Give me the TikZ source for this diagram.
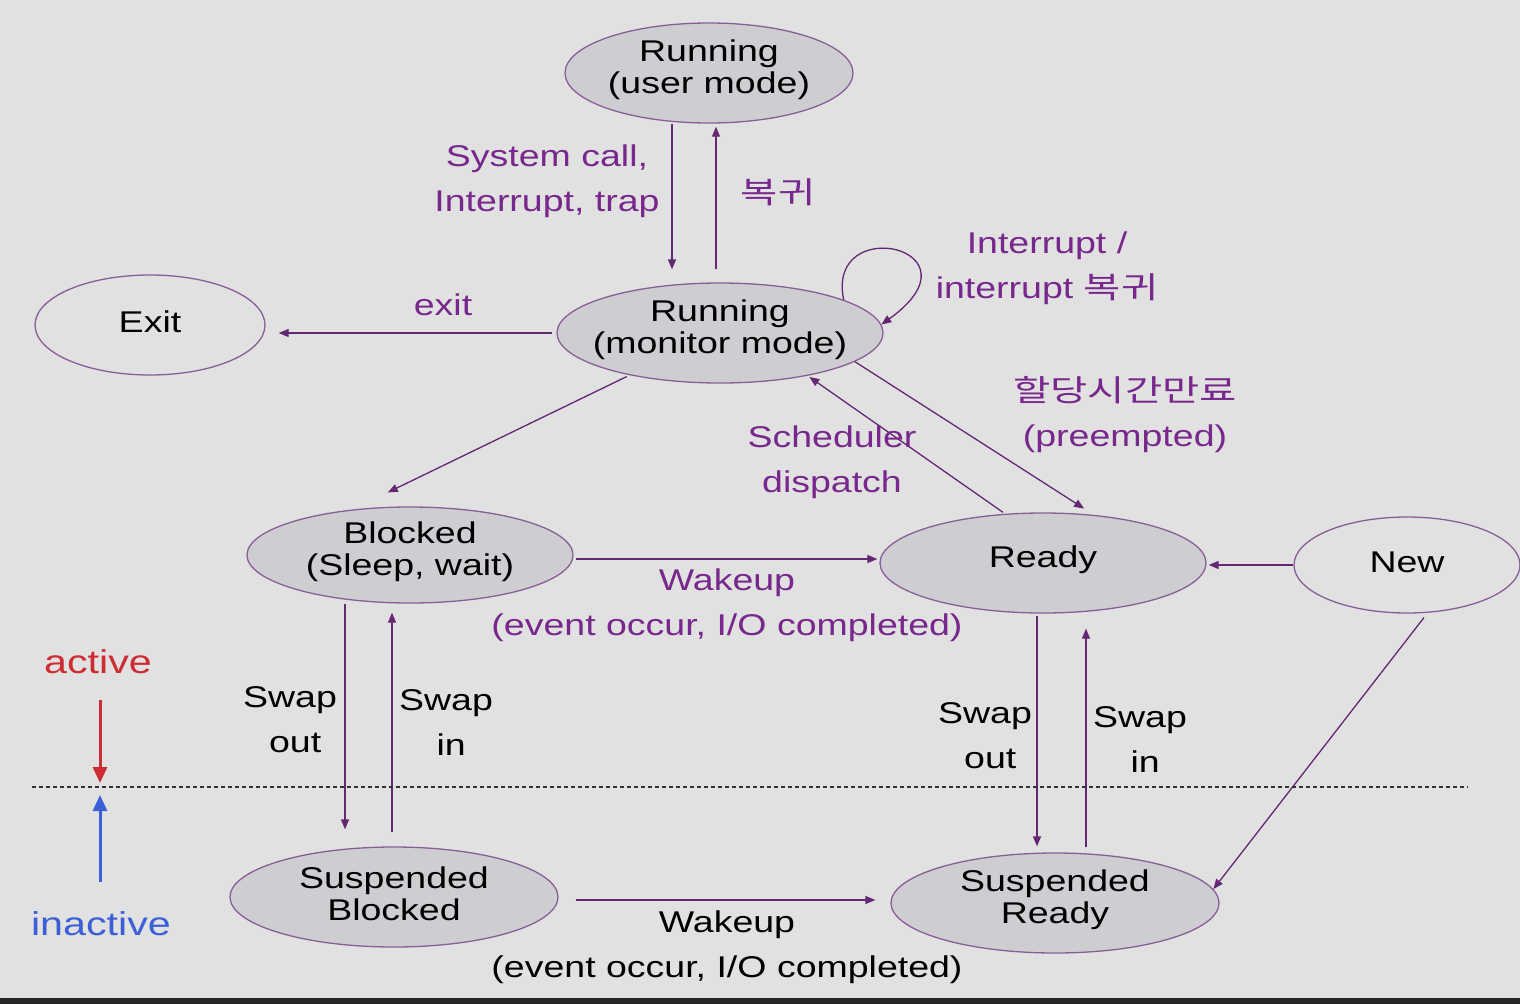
\documentclass[tikz,border=0pt]{standalone}
\usepackage{fontspec}
\setmainfont{Liberation Sans}[FakeStretch=1.25]
\newfontfamily\krfont{Noto Sans CJK KR}[FakeStretch=1.35]
\usetikzlibrary{shapes.geometric,arrows.meta}
\definecolor{bgc}{RGB}{225,225,225}
\definecolor{efill}{RGB}{206,206,210}
\definecolor{eline}{RGB}{135,95,150}
\definecolor{arrc}{RGB}{100,40,115}
\definecolor{labc}{RGB}{120,40,140}
\definecolor{actred}{RGB}{205,45,50}
\definecolor{inblue}{RGB}{60,95,215}
\tikzset{
  st/.style={ellipse, draw=eline, line width=1.3pt, inner sep=0pt},
  gst/.style={st, fill=efill},
  nt/.style={align=center, font=\fontsize{30}{32}\selectfont, text=black, inner sep=0pt, yshift=3pt},
  lb/.style={align=center, font=\fontsize{30}{45}\selectfont, text=labc, inner sep=0pt},
  kr/.style={align=center, font=\krfont\fontsize{30}{45}\selectfont, text=labc, inner sep=0pt},
  bk/.style={lb, text=black},
  arr/.style={draw=arrc, line width=1.3pt, -{Triangle[length=10pt,width=8pt]}},
  bigarr/.style={line width=3pt, -{Triangle[length=16pt,width=14pt]}},
}
\begin{document}
\begin{tikzpicture}[x=1pt,y=-1pt]
\fill[bgc] (0,0) rectangle (1520,1004);
\useasboundingbox (0,0) rectangle (1520,1004);
\fill[black!85] (0,998) rectangle (1520,1004);

% states
\node[gst, minimum width=288pt, minimum height=100pt, label={[nt]center:Running\\(user mode)}] (um) at (709,73) {};
\node[gst, minimum width=326pt, minimum height=100pt, label={[nt]center:Running\\(monitor mode)}] (rm) at (720,333) {};
\node[st, minimum width=230pt, minimum height=100pt, label={[nt]center:Exit}] (ex) at (150,325) {};
\node[gst, minimum width=326pt, minimum height=96pt, label={[nt]center:Blocked\\(Sleep, wait)}] (bl) at (410,555) {};
\node[gst, minimum width=326pt, minimum height=100pt, label={[nt]center:Ready}] (rd) at (1043,563) {};
\node[st, minimum width=226pt, minimum height=96pt, label={[nt]center:New}] (nw) at (1407,565) {};
\node[gst, minimum width=328pt, minimum height=100pt, label={[nt]center:Suspended\\Blocked}] (sb) at (394,897) {};
\node[gst, minimum width=328pt, minimum height=100pt, label={[nt]center:Suspended\\Ready}] (sr) at (1055,903) {};

% connectors
\draw[arr, shorten >=13pt] ([xshift=-37pt]um.south) -- ([xshift=-48pt]rm.north);
\draw[arr, shorten <=13pt, shorten >=3pt] ([xshift=-4pt]rm.north) -- ([xshift=7pt]um.south);
\draw[arr] (rm.15) .. controls (825,212) and (988,248) .. (rm.3);
\draw[arr, shorten <=4pt, shorten >=13pt] (rm.west) -- (rm.west -| ex.east);
\draw[arr, shorten <=3pt, shorten >=32pt] (rm.205) -- ([xshift=-51pt]bl.north);
\draw[arr, shorten >=2pt] ([xshift=-40pt]rd.north) -- (rm.334);
\draw[arr, shorten >=7pt] (rm.348) -- ([xshift=47pt]rd.north);
\draw[arr, shorten <=2pt, shorten >=2pt] ([yshift=-4pt]bl.east) -- ([yshift=-4pt]bl.east -| rd.west);
\draw[arr, shorten >=2pt] (nw.west) -- (nw.west -| rd.east);
\draw[arr, shorten >=17pt] ([xshift=-65pt]bl.south) -- ([xshift=-49pt]sb.north);
\draw[arr, shorten <=14pt, shorten >=9pt] ([xshift=-2pt]sb.north) -- ([xshift=-18pt]bl.south);
\draw[arr, shorten <=2pt, shorten >=6pt] ([xshift=-6pt]rd.south) -- ([xshift=-18pt]sr.north);
\draw[arr, shorten <=5pt, shorten >=15pt] ([xshift=31pt]sr.north) -- ([xshift=43pt]rd.south);
\draw[arr, shorten <=5pt] ([xshift=20pt]nw.south) -- (sr.5);
\draw[arr, shorten <=17pt, shorten >=15pt] ([yshift=-3pt]sb.east) -- ([yshift=-3pt]sb.east -| sr.west);

% labels
\node[lb] (lsys) at (547,181) {System call,\\Interrupt, trap};
\node[kr] (lret) at (778,192) {복귀};
\node[lb] (lint) at (1047,268) {Interrupt /\\interrupt {\krfont 복귀}};
\node[lb] (lexit) at (443,305) {exit};
\node[lb] (lpre) at (1125,415) {{\krfont 할당시간만료}\\(preempted)};
\node[lb] (lsch) at (832,462) {Scheduler\\dispatch};
\node[lb] (lwk1) at (727,605) {Wakeup\\(event occur, I/O completed)};
\node[bk] (lso1) at (290,720) {Swap\\\ out};
\node[bk] (lsi1) at (446,723) {Swap\\\ in};
\node[bk] (lso2) at (985,736) {Swap\\\ out};
\node[bk] (lsi2) at (1140,740) {Swap\\\ in};
\node[bk] (lwk2) at (727,947) {Wakeup\\(event occur, I/O completed)};

% active / inactive
\coordinate (dl) at (32,787);
\coordinate (dr) at (1468,787);
\draw[black!80, line width=1.5pt, dash pattern=on 4pt off 3pt] (dl) -- (dr);
\node[font=\fontsize{33}{36}\selectfont, text=actred, inner sep=0pt] (act) at (98,662) {active};
\node[font=\fontsize{33}{36}\selectfont, text=inblue, inner sep=0pt] (inact) at (101,924) {inactive};
\coordinate (ra) at (100,700);
\coordinate (ba) at (100,882);
\draw[bigarr, actred, shorten >=4pt] (ra) -- (ra |- dl);
\draw[bigarr, inblue, shorten >=8pt] (ba) -- (ba |- dl);
\end{tikzpicture}
\end{document}
